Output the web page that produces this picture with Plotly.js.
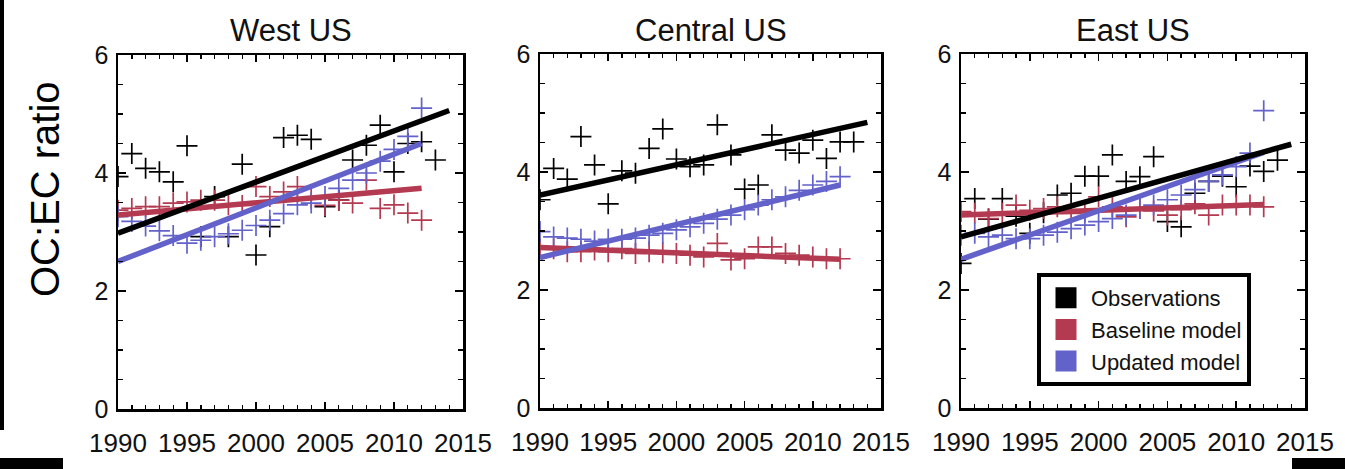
<!DOCTYPE html>
<html>
<head>
<meta charset="utf-8">
<script src="https://cdn.plot.ly/plotly-3.0.1.min.js"></script>
<style>
  html, body { margin: 0; padding: 0; background: #fff; }
  #chart { width: 1345px; height: 469px; }
</style>
</head>
<body>
<div id="chart"></div>
<script>
// ---- data ----
const obsYears   = [1990,1991,1992,1993,1994,1995,1996,1997,1998,1999,2000,2001,2002,2003,2004,2005,2006,2007,2008,2009,2010,2011,2012,2013];
const modelYears = [1990,1991,1992,1993,1994,1995,1996,1997,1998,1999,2000,2001,2002,2003,2004,2005,2006,2007,2008,2009,2010,2011,2012];

const westObs  = [3.94,4.33,4.08,4.02,3.85,4.46,2.92,3.60,2.92,4.15,2.61,3.09,4.60,4.64,4.57,3.43,3.54,4.22,4.47,4.81,4.02,4.50,4.53,4.22];
const westBase = [3.37,3.40,3.43,3.43,3.49,3.51,3.54,3.54,3.46,3.45,3.77,3.60,3.68,3.77,3.57,3.45,3.54,3.49,3.88,3.40,3.46,3.32,3.20];
const westUpd  = [3.26,3.18,3.10,3.02,2.94,2.81,2.86,2.92,2.97,3.03,3.11,3.20,3.31,3.46,3.49,3.60,3.74,3.88,4.00,4.20,4.40,4.62,5.10];

const centralObs  = [3.53,4.06,3.88,4.60,4.12,3.46,4.02,3.98,4.40,4.73,4.22,4.09,4.12,4.80,4.29,3.71,3.78,4.63,4.37,4.32,4.54,4.23,4.51,4.51];
const centralBase = [2.70,2.70,2.65,2.65,2.68,2.65,2.70,2.62,2.65,2.63,2.62,2.59,2.56,2.79,2.51,2.53,2.73,2.73,2.62,2.59,2.56,2.53,2.53];
const centralUpd  = [2.99,2.90,2.88,2.86,2.83,2.86,2.86,2.88,2.93,2.96,3.02,3.07,3.13,3.20,3.27,3.36,3.44,3.53,3.58,3.69,3.78,3.84,3.92];

const eastObs  = [2.45,3.55,3.20,3.55,3.25,2.96,3.31,3.61,3.64,3.93,3.93,4.29,3.84,3.92,4.26,3.16,3.07,3.64,3.84,3.93,3.75,4.10,4.01,4.20];
const eastBase = [3.33,3.30,3.21,3.30,3.44,3.35,3.38,3.41,3.30,3.32,3.58,3.41,3.24,3.38,3.34,3.27,3.36,3.46,3.27,3.44,3.44,3.44,3.41];
const eastUpd  = [2.93,2.96,2.90,2.93,2.87,2.87,2.93,2.98,3.04,3.10,3.16,3.21,3.27,3.38,3.44,3.53,3.61,3.70,3.84,3.95,4.09,4.32,5.04];

// trend lines (end points)
const obsFitYears   = [1990, 2014];
const modelFitYears = [1990, 2012];
const westObsFit  = [2.98, 5.06];
const westBaseFit = [3.29, 3.74];
const westUpdFit  = [2.50, 4.50];
const centralObsFit  = [3.61, 4.84];
const centralBaseFit = [2.72, 2.52];
const centralUpdFit  = [2.55, 3.78];
const eastObsFit  = [2.90, 4.47];
const eastBaseFit = [3.27, 3.45];
const eastUpdFit  = [2.52, 4.33];

const panelTitles = ["West US", "Central US", "East US"];
const seriesNames = ["Observations", "Baseline model", "Updated model"];
const xTickVals = [1990, 1995, 2000, 2005, 2010, 2015];
const yTickVals = [0, 2, 4, 6];

// ---- styling ----
const BLACK = "#000000";
const RED = "#B33A50";
const BLUE = "#6262CA";
const FONT = "Liberation Sans, Arial, Helvetica, sans-serif";
const W = 1345, H = 469;

const panels = [
  {obs: westObs, base: westBase, upd: westUpd, fo: westObsFit, fb: westBaseFit, fu: westUpdFit},
  {obs: centralObs, base: centralBase, upd: centralUpd, fo: centralObsFit, fb: centralBaseFit, fu: centralUpdFit},
  {obs: eastObs, base: eastBase, upd: eastUpd, fo: eastObsFit, fb: eastBaseFit, fu: eastUpdFit}
];
// pixel boxes of the three plot frames
const boxes = [
  {l: 118, r: 463, t: 55, b: 409},
  {l: 540, r: 881, t: 54, b: 408},
  {l: 961, r: 1305, t: 54, b: 408}
];

const traces = [];
panels.forEach((p, i) => {
  const xa = i === 0 ? "x" : "x" + (i + 1);
  const ya = i === 0 ? "y" : "y" + (i + 1);
  const cross = (c) => ({symbol: "cross-thin-open", size: 15, color: c, line: {color: c, width: 1.7}});
  traces.push({x: obsYears, y: p.obs, xaxis: xa, yaxis: ya, mode: "markers", marker: cross(BLACK), showlegend: false, hoverinfo: "x+y"});
  traces.push({x: modelYears, y: p.base, xaxis: xa, yaxis: ya, mode: "markers", marker: cross(RED), showlegend: false, hoverinfo: "x+y"});
  traces.push({x: modelYears, y: p.upd, xaxis: xa, yaxis: ya, mode: "markers", marker: cross(BLUE), showlegend: false, hoverinfo: "x+y"});
  traces.push({x: modelFitYears, y: p.fb, xaxis: xa, yaxis: ya, mode: "lines", line: {color: RED, width: 5.5}, showlegend: false});
  traces.push({x: modelFitYears, y: p.fu, xaxis: xa, yaxis: ya, mode: "lines", line: {color: BLUE, width: 5.5}, showlegend: false});
  traces.push({x: obsFitYears, y: p.fo, xaxis: xa, yaxis: ya, mode: "lines", line: {color: BLACK, width: 5.5}, showlegend: false});
});
// legend entries (squares)
[BLACK, RED, BLUE].forEach((c, k) => {
  traces.push({x: [null], y: [null], xaxis: "x3", yaxis: "y3", mode: "markers", name: seriesNames[k],
    marker: {symbol: "square", size: 16, color: c, line: {color: c, width: 5}}, showlegend: true});
});

const layout = {
  width: W, height: H,
  margin: {l: 0, r: 0, t: 0, b: 0},
  paper_bgcolor: "#fff", plot_bgcolor: "#fff",
  font: {family: FONT, color: "#111", size: 24},
  showlegend: true,
  legend: {
    x: 1037 / W, y: 1 - 273 / H, xanchor: "left", yanchor: "top",
    bgcolor: "#fff", bordercolor: "#000", borderwidth: 4,
    font: {family: FONT, size: 22, color: "#111"},
    itemwidth: 40, tracegroupgap: 0
  },
  annotations: [],
  shapes: [
    {type: "rect", xref: "paper", yref: "paper", x0: 0, x1: 4 / W, y0: 1 - 430 / H, y1: 1, fillcolor: "#000", line: {width: 0}},
    {type: "rect", xref: "paper", yref: "paper", x0: 0, x1: 63 / W, y0: 0, y1: 11 / H, fillcolor: "#000", line: {width: 0}},
    {type: "rect", xref: "paper", yref: "paper", x0: 1292 / W, x1: 1, y0: 0, y1: 11 / H, fillcolor: "#000", line: {width: 0}}
  ]
};

boxes.forEach((b, i) => {
  const sfx = i === 0 ? "" : String(i + 1);
  layout["xaxis" + sfx] = {
    domain: [b.l / W, b.r / W], anchor: "y" + sfx, range: [1990, 2015],
    tickvals: xTickVals, ticks: "inside", ticklen: 7, tickwidth: 1.6, tickcolor: "#000",
    minor: {dtick: 1, tick0: 1990, ticks: "inside", ticklen: 4, tickwidth: 1.4, tickcolor: "#000"},
    showline: true, linecolor: "#000", linewidth: 2.5, mirror: "ticks",
    showgrid: false, zeroline: false, automargin: false, fixedrange: true,
    tickfont: {family: FONT, size: 26, color: "#111"}, ticklabelstandoff: 9
  };
  layout["yaxis" + sfx] = {
    domain: [1 - b.b / H, 1 - b.t / H], anchor: "x" + sfx, range: [0, 6],
    tickvals: yTickVals, ticks: "inside", ticklen: 8, tickwidth: 1.6, tickcolor: "#000",
    minor: {dtick: 0.5, tick0: 0, ticks: "inside", ticklen: 5, tickwidth: 1.4, tickcolor: "#000"},
    showline: true, linecolor: "#000", linewidth: 2.5, mirror: "ticks",
    showgrid: false, zeroline: false, automargin: false, fixedrange: true,
    tickfont: {family: FONT, size: 25, color: "#111"}, ticklabelstandoff: 2
  };
  layout.annotations.push({
    text: panelTitles[i], xref: "paper", yref: "paper",
    x: (b.l + b.r) / 2 / W, y: 1 - 30 / H, xanchor: "center", yanchor: "middle",
    showarrow: false, font: {family: FONT, size: 31, color: "#111"}
  });
});
layout.annotations.push({
  text: "OC:EC ratio", xref: "paper", yref: "paper", x: 45 / W, y: 1 - 189 / H,
  xanchor: "center", yanchor: "middle", textangle: -90, showarrow: false,
  font: {family: FONT, size: 40, color: "#000"}
});

Plotly.newPlot("chart", traces, layout, {staticPlot: true, displayModeBar: false});
</script>
</body>
</html>
